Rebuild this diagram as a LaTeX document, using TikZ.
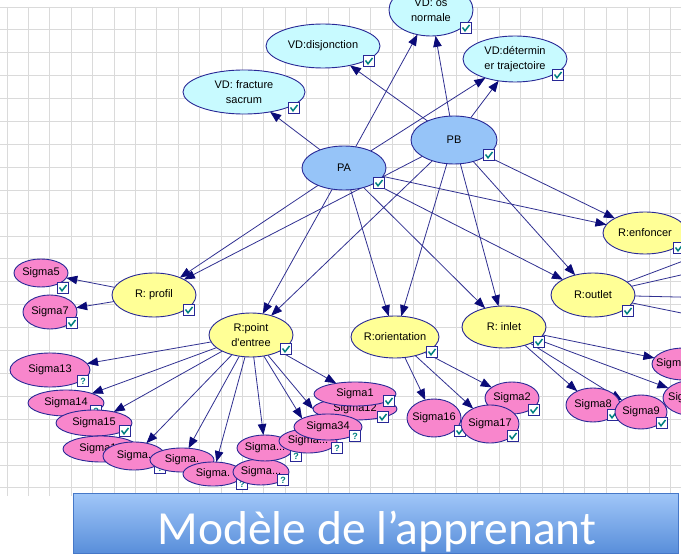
\documentclass[tikz,border=0pt]{standalone}
\usepackage{fontspec}
\setmainfont{Liberation Sans}
\newfontfamily\titlefont{Carlito}
\usetikzlibrary{shapes.geometric,arrows.meta}
\definecolor{gridc}{RGB}{218,218,218}
\definecolor{nline}{RGB}{40,40,150}
\definecolor{ecol}{RGB}{48,48,145}
\definecolor{acol}{RGB}{10,10,120}
\definecolor{vdc}{RGB}{200,250,255}
\definecolor{pcol}{RGB}{150,196,248}
\definecolor{ycol}{RGB}{255,255,150}
\definecolor{scol}{RGB}{248,134,204}
\definecolor{tealc}{RGB}{0,128,128}
\definecolor{boxtop}{RGB}{160,198,248}
\definecolor{boxbot}{RGB}{88,142,218}
\definecolor{boxline}{RGB}{70,120,200}
\pgfdeclarelayer{gridl}\pgfdeclarelayer{edgel}\pgfsetlayers{gridl,edgel,main}
\tikzset{
 en/.style={ellipse, draw=nline, line width=0.9pt, inner sep=0pt, outer sep=0pt},
 vd/.style={en, fill=vdc}, pp/.style={en, fill=pcol}, rr/.style={en, fill=ycol}, ss/.style={en, fill=scol},
 txt/.style={font=\fontsize{11}{15}\selectfont, align=center, inner sep=0pt},
 cbox/.style={draw=nline, fill=white, line width=0.7pt},
 chk/.pic={\draw[cbox] (-5.5,-5.5) rectangle (5.5,5.5); \draw[tealc, line width=1.5pt] (-3.5,-0.5) -- (-1,2.8) -- (3.5,-3);},
 qm/.pic={\draw[cbox] (-5.5,-5.5) rectangle (5.5,5.5); \node[font=\bfseries\fontsize{9}{9}\selectfont, text=tealc, inner sep=0pt] at (0,0) {?};},
 arc/.style={draw=ecol, line width=0.8pt, -{Triangle[length=11pt,width=8.5pt,color=acol]}},
 ln/.style={draw=ecol, line width=0.8pt}
}
\newcommand\EN[7]{\node[#1, minimum width={2*#5pt}, minimum height={2*#6pt}] (#2) at (#3,#4) {}; \node[txt] (#2t) at (#2) {#7};}
\begin{document}
\begin{tikzpicture}[x=1pt,y=-1pt]
\useasboundingbox (0,0) rectangle (681,556);
\clip (0,0) rectangle (681,556);
\begin{pgfonlayer}{gridl}
\fill[white] (0,0) rectangle (681,556);
\foreach \i in {0,...,31} \draw[gridc, line width=0.9pt] ({7+21.4*\i},7) -- ({7+21.4*\i},496);
\foreach \j in {0,...,21} \draw[gridc, line width=0.9pt] (0,{7+22.9*\j}) -- (681,{7+22.9*\j});
\end{pgfonlayer}
% top nodes
\EN{vd}{osn}{431}{10}{42}{26}{VD: os\\normale} \pic at (466,28) {chk};
\EN{vd}{disj}{323}{46}{57}{22}{VD:disjonction} \pic at (369,61) {chk};
\EN{vd}{frac}{244}{92}{61}{22}{VD: fracture\\sacrum} \pic at (294,108) {chk};
\EN{vd}{traj}{515}{59}{52}{23}{VD:détermin\\er trajectoire} \pic at (558,75) {chk};
\EN{pp}{PA}{344}{168}{42}{22}{PA} \pic at (379,183) {chk};
\EN{pp}{PB}{454}{140}{43}{24}{PB} \pic at (489,155) {chk};
% R nodes
\EN{rr}{profil}{154}{295}{42}{22}{R: profil} \pic at (189,310) {chk};
\EN{rr}{pe}{251}{335}{42}{22}{R:point\\d\textquotesingle entree} \pic at (286,349) {chk};
\EN{rr}{orient}{395}{337}{44}{21}{R:orientation} \pic at (432,352) {chk};
\EN{rr}{inlet}{504}{327}{42}{21}{R: inlet} \pic at (539,342) {chk};
\EN{rr}{outlet}{593}{295}{42}{22}{R:outlet} \pic at (628,311) {chk};
\EN{rr}{enf}{645}{233}{42}{21}{R:enfoncer} \pic at (679,248) {chk};
% sigma nodes
\EN{ss}{s5}{41}{273}{27}{14}{Sigma5} \pic at (63,288) {chk};
\EN{ss}{s7}{50}{312}{27}{17}{Sigma7} \pic at (72,323) {chk};
\EN{ss}{s13}{50}{370}{40}{17}{Sigma13} \pic at (83,381) {qm};
\EN{ss}{s14}{66}{403}{38}{13}{Sigma14} \pic at (96,411) {qm};
\EN{ss}{s15}{94}{423}{38}{13}{Sigma15} \pic at (125,431) {chk};
\EN{ss}{s16L}{101}{449}{38}{13}{Sigma16} \pic at (132,458) {chk};
\EN{ss}{sa}{134}{456}{31}{14}{Sigma.} \pic at (160,468) {qm};
\EN{ss}{sb}{182}{460}{32}{12}{Sigma.} \pic at (208,470) {qm};
\EN{ss}{sc}{213}{474}{30}{12}{Sigma.} \pic at (242,484) {qm};
\EN{ss}{sf}{261}{472}{28}{13}{Sigma...} \pic at (283,480) {qm};
\EN{ss}{sd}{265}{448}{28}{13}{Sigma...} \pic at (296,456) {qm};
\EN{ss}{se}{308}{441}{29}{12}{Sigma...} \pic at (337,448) {qm};
\EN{ss}{s12}{355}{409}{42}{11}{Sigma12} \pic at (383,417) {chk};
\EN{ss}{s1}{355}{394}{41}{12}{Sigma1} \pic at (389,401) {chk};
\EN{ss}{s34}{328}{427}{34}{13}{Sigma34} \pic at (355,436) {qm};
\EN{ss}{s2}{512}{398}{27}{16}{Sigma2} \pic at (534,410) {chk};
\EN{ss}{s16}{434}{418}{27}{19}{Sigma16} \pic at (460,431) {chk};
\EN{ss}{s17}{490}{424}{29}{19}{Sigma17} \pic at (513,436) {chk};
\EN{ss}{s8}{593}{405}{27}{17}{Sigma8} \pic at (613,415) {chk};
\EN{ss}{s9}{641}{412}{26}{17}{Sigma9} \pic at (662,423) {chk};
\node[ss, minimum width=64pt, minimum height=32pt] (sr1) at (684,364) {};
\node[txt, anchor=west] (sr1t) at (656,364) {Sigma};
\node[ss, minimum width=64pt, minimum height=36pt] (sr2) at (695,398) {};
\node[txt, anchor=west] (sr2t) at (668,398) {Sigma};
\coordinate (o1) at (760,232);
\coordinate (o2) at (760,257);
\coordinate (o3) at (760,299);
\coordinate (o4) at (760,329);
% title
\node[draw=boxline, line width=1pt, top color=boxtop, bottom color=boxbot, minimum width=605pt, minimum height=60pt, inner sep=0pt, anchor=north west] (title) at (73,493) {};
\node[font=\titlefont\fontsize{47.5}{47.5}\selectfont, text=white, anchor=base, inner sep=0pt] (titlet) at (377,544) {Modèle de l’apprenant};
\begin{pgfonlayer}{edgel}
\clip (0,0) rectangle (681,556);
\draw[arc] (PA) -- (frac);
\draw[arc] (PB) -- (disj);
\draw[arc] (PA) -- (osn);
\draw[arc] (PB) -- (osn);
\draw[arc] (PA) -- (traj);
\draw[arc] (PB) -- (traj);
\foreach \t in {profil,pe,orient,inlet,outlet,enf} {
  \draw[arc] (PA) -- (\t);
  \draw[arc] (PB) -- (\t);
}
\draw[arc] (profil) -- (s5);
\draw[arc] (profil) -- (s7);
\foreach \t in {s13,s14,s15,sa,sb,sc,sd,s1} \draw[arc] (pe) -- (\t);
\draw[arc] (pe) -- (s34.162);
\draw[arc] (pe) -- (s12.180);
\foreach \t in {s16,s17,s2} \draw[arc] (orient) -- (\t);
\foreach \t in {s8,s9,sr1,sr2} \draw[arc] (inlet) -- (\t);
\foreach \t in {o1,o2,o3,o4} \draw[ln] (outlet) -- (\t);
\end{pgfonlayer}
\end{tikzpicture}
\end{document}
